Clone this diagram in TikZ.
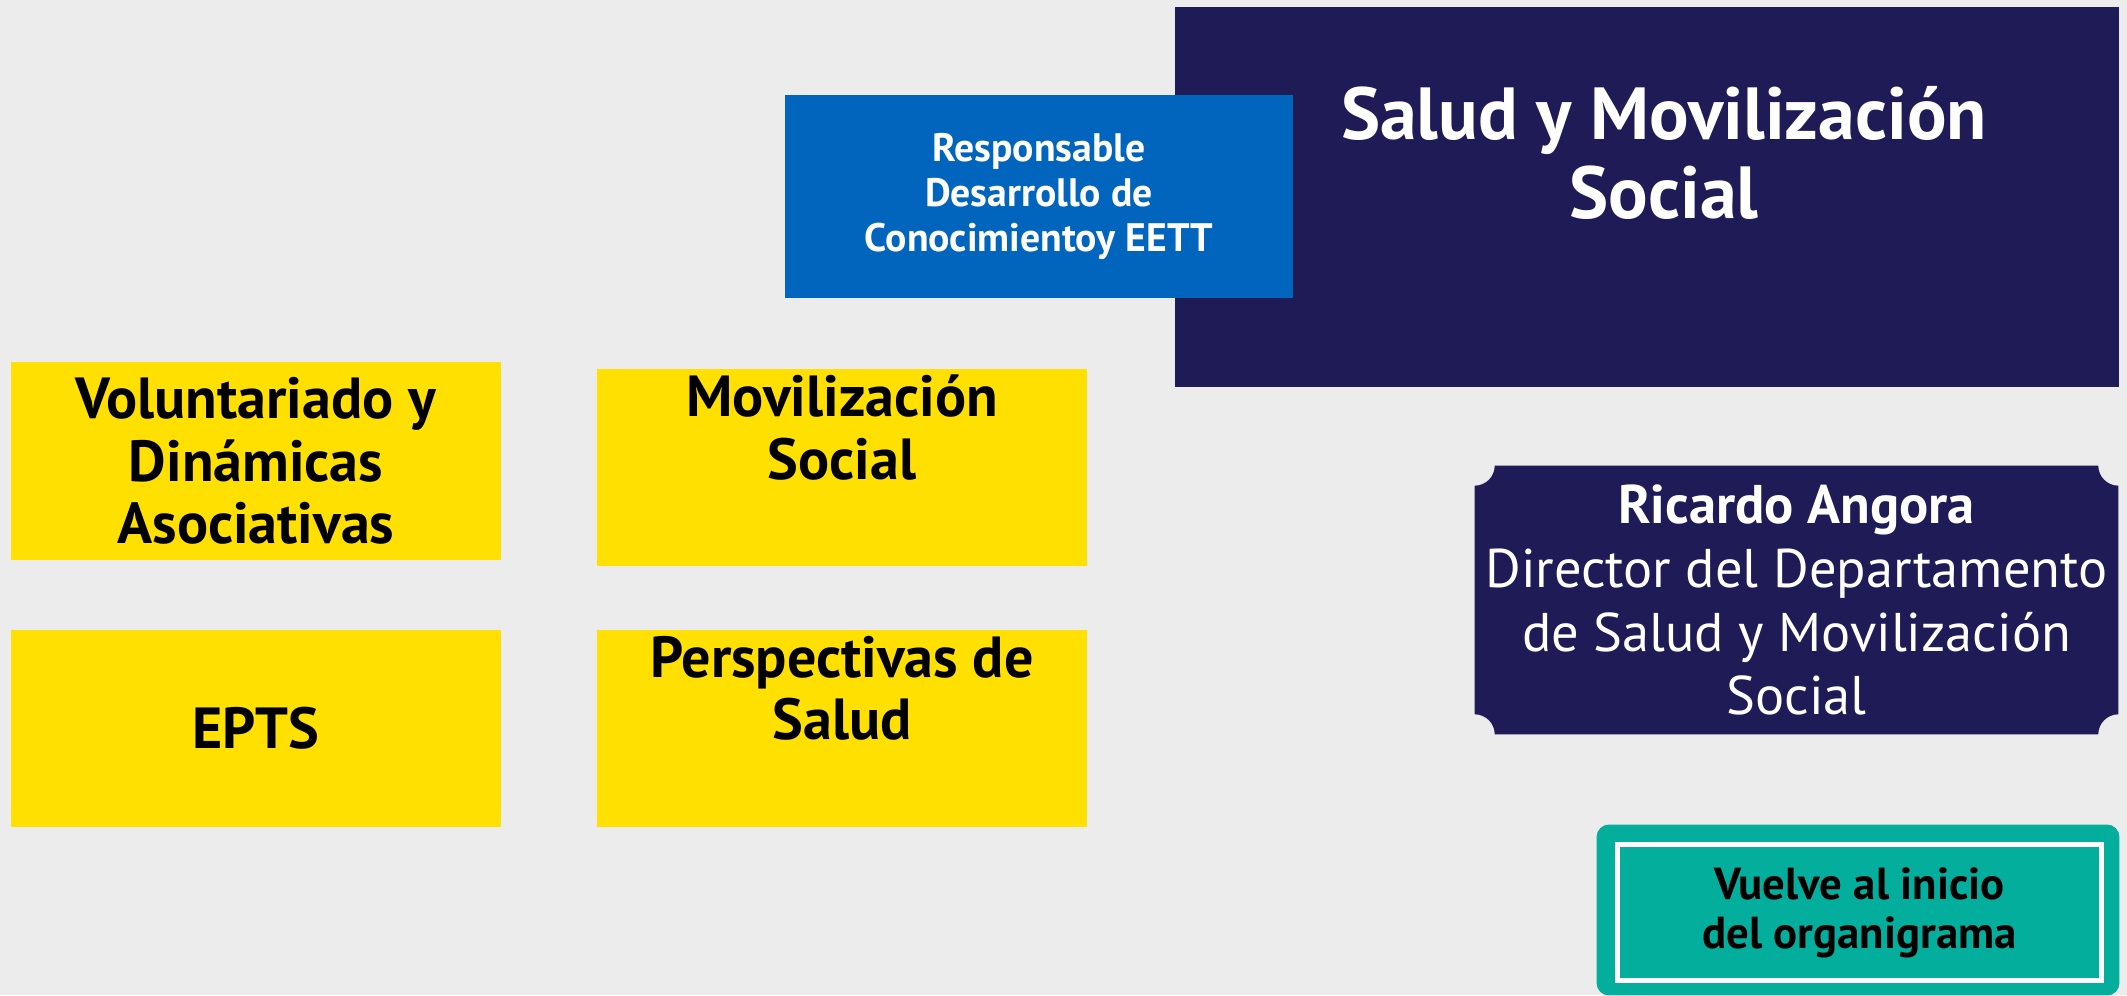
\documentclass[tikz,border=0pt]{standalone}
\usepackage{fontspec}
\setmainfont{PT Sans}
\usepackage{tikz}
\usetikzlibrary{backgrounds}
\definecolor{fondo}{HTML}{ECECEC}
\definecolor{marino}{HTML}{1F1B57}
\definecolor{azul}{HTML}{0165BE}
\definecolor{amarillo}{HTML}{FFE000}
\definecolor{verde}{HTML}{03AF9C}
\tikzset{caja/.style={fill=amarillo, text=black, align=center, inner sep=0pt,
    minimum width=9.8cm, minimum height=3.95cm,
    font=\bfseries\fontsize{33}{35.5}\selectfont}}

\begin{document}
\begin{tikzpicture}[x=0.02cm,y=0.02cm]
            \useasboundingbox (0,0) rectangle (2127,995);
            \begin{scope}[on background layer]
            \fill [fondo] (0,0) rectangle (2127,995);
            \end{scope}

            \node [style={fill=marino, minimum width=18.88cm, minimum height=7.6cm}] (S) at (1647,798) {};
            \node [style={text=white, align=center, font=\bfseries\fontsize{42}{45}\selectfont}] (T) at (1664,842) {Salud y Movilizaci\'on\\Social};
            \node [style={fill=azul, text=white, align=center, minimum width=10.16cm, minimum height=4.06cm, font=\bfseries\fontsize{22.6}{25.6}\selectfont}] (R) at (1039,798.5) {Responsable\\Desarrollo de\\Conocimientoy EETT};

            \node [caja] (V) at (256,534) {Voluntariado y\\Din\'amicas\\Asociativas};
            \node [caja] (M) at (842,527.5) {Movilizaci\'on\\Social\\ \strut};
            \node [caja] (E) at (256,266.5) {EPTS};
            \node [caja] (P) at (842,266.5) {Perspectivas de\\Salud\\ \strut};

            \node [style={text=white, align=center, minimum width=12.86cm, minimum height=5.36cm, font=\fontsize{31}{36.4}\selectfont}] (D) at (1796.5,395) {\textbf{Ricardo Angora}\\Director del Departamento\\de Salud y Movilizaci\'on\\Social};
            \begin{scope}[on background layer]
            \fill [marino] ([xshift=0.4cm]D.north west) -- ([xshift=-0.4cm]D.north east)
                arc [start angle=180, end angle=270, radius=0.4cm] -- ([yshift=0.4cm]D.south east)
                arc [start angle=90, end angle=180, radius=0.4cm] -- ([xshift=0.4cm]D.south west)
                arc [start angle=0, end angle=90, radius=0.4cm] -- ([yshift=-0.4cm]D.north west)
                arc [start angle=270, end angle=360, radius=0.4cm] -- cycle;
            \end{scope}

            \node [style={fill=verde, draw=white, line width=0.1cm, text=black, align=center, minimum width=9.7cm, minimum height=2.74cm, font=\bfseries\fontsize{25.5}{28}\selectfont}] (B) at (1859.5,82.5) {Vuelve al inicio\\del organigrama};
            \begin{scope}[on background layer]
            \fill [verde, rounded corners=0.25cm] ([shift={(-18,17)}]B.north west) rectangle ([shift={(15,-12)}]B.south east);
            \end{scope}
        \end{tikzpicture}
\end{document}
